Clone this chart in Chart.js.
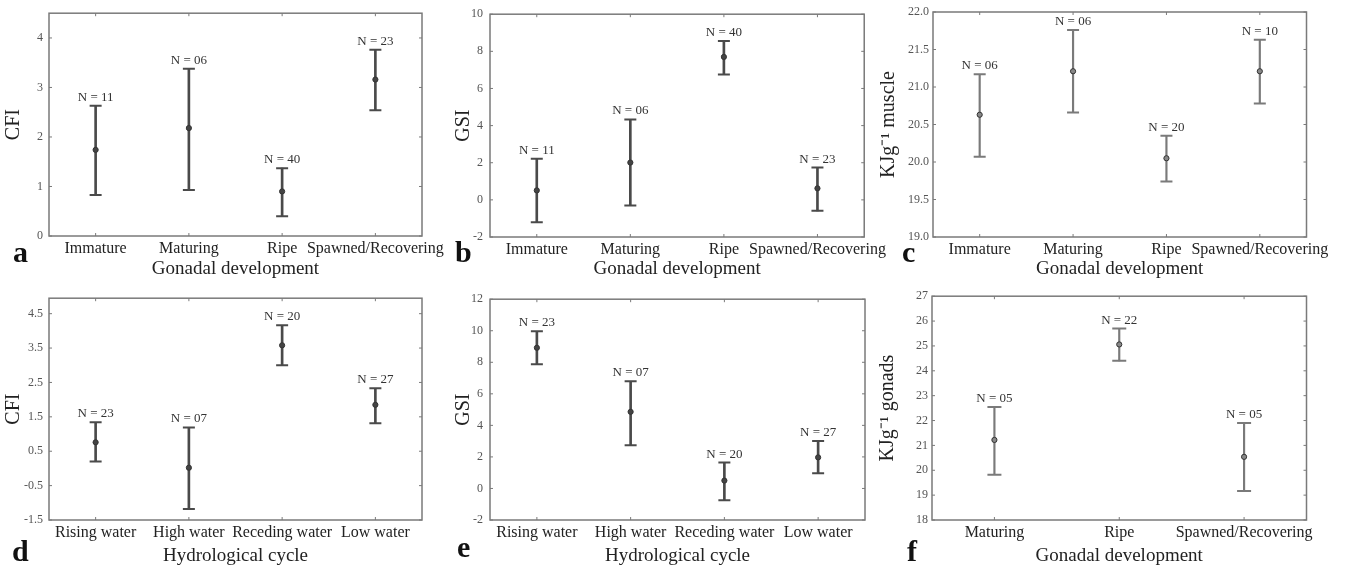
<!DOCTYPE html>
<html>
<head>
<meta charset="utf-8">
<script src="https://cdn.jsdelivr.net/npm/chart.js@4.4.1/dist/chart.umd.min.js"></script>
<style>
  body { margin: 0; background: #fff; width: 1348px; height: 571px; position: relative; overflow: hidden;
         font-family: 'Liberation Serif', 'Times New Roman', serif; }
  canvas { position: absolute; }
  .tag { position: absolute; font-weight: bold; font-size: 30px; line-height: 30px; color: #111; }
</style>
</head>
<body>
<canvas id="pa" width="452" height="285" style="left:0;top:0"></canvas>
<canvas id="pb" width="440" height="285" style="left:452px;top:0"></canvas>
<canvas id="pc" width="474" height="285" style="left:874px;top:0"></canvas>
<canvas id="pd" width="452" height="286" style="left:0;top:285px"></canvas>
<canvas id="pe" width="440" height="286" style="left:452px;top:285px"></canvas>
<canvas id="pf" width="474" height="286" style="left:874px;top:285px"></canvas>
<div class="tag" style="left:13px;top:237px">a</div>
<div class="tag" style="left:455px;top:237px">b</div>
<div class="tag" style="left:902px;top:237px">c</div>
<div class="tag" style="left:12px;top:536px">d</div>
<div class="tag" style="left:457px;top:532px">e</div>
<div class="tag" style="left:907px;top:536px">f</div>
<script>
// categories
const gonadStages = ['Immature', 'Maturing', 'Ripe', 'Spawned/Recovering'];
const hydroPhases = ['Rising water', 'High water', 'Receding water', 'Low water'];
const gonadStagesF = ['Maturing', 'Ripe', 'Spawned/Recovering'];

// a: CFI by gonadal development
const cfiStageMean  = [1.74, 2.18, 0.90, 3.16];
const cfiStageLow   = [0.83, 0.93, 0.40, 2.54];
const cfiStageHigh  = [2.63, 3.38, 1.37, 3.76];
const cfiStageN     = ['11', '06', '40', '23'];
// b: GSI by gonadal development
const gsiStageMean  = [0.51, 2.01, 7.70, 0.62];
const gsiStageLow   = [-1.21, -0.30, 6.75, -0.59];
const gsiStageHigh  = [2.22, 4.33, 8.55, 1.74];
const gsiStageN     = ['11', '06', '40', '23'];
// c: muscle energy by gonadal development
const muscleMean    = [20.63, 21.21, 20.05, 21.21];
const muscleLow     = [20.07, 20.66, 19.74, 20.78];
const muscleHigh    = [21.17, 21.76, 20.35, 21.63];
const muscleN       = ['06', '06', '20', '10'];
// d: CFI by hydrological cycle
const cfiHydroMean  = [0.76, 0.02, 3.58, 1.85];
const cfiHydroLow   = [0.20, -1.18, 3.00, 1.31];
const cfiHydroHigh  = [1.34, 1.19, 4.16, 2.33];
const cfiHydroN     = ['23', '07', '20', '27'];
// e: GSI by hydrological cycle
const gsiHydroMean  = [8.92, 4.86, 0.50, 1.97];
const gsiHydroLow   = [7.88, 2.74, -0.75, 0.97];
const gsiHydroHigh  = [9.96, 6.80, 1.64, 3.01];
const gsiHydroN     = ['23', '07', '20', '27'];
// f: gonad energy by gonadal development
const gonadMean     = [21.22, 25.06, 20.54];
const gonadLow      = [19.82, 24.40, 19.17];
const gonadHigh     = [22.54, 25.70, 21.90];
const gonadN        = ['05', '22', '05'];

// y tick labels
const ticksA = [0, 1, 2, 3, 4];
const ticksB = [-2, 0, 2, 4, 6, 8, 10];
const ticksC = [19.0, 19.5, 20.0, 20.5, 21.0, 21.5, 22.0];
const ticksD = [-1.5, -0.5, 0.5, 1.5, 2.5, 3.5, 4.5];
const ticksE = [-2, 0, 2, 4, 6, 8, 10, 12];
const ticksF = [18, 19, 20, 21, 22, 23, 24, 25, 26, 27];

const FONT = "'Liberation Serif', 'Times New Roman', serif";

const framePlugin = {
  id: 'frame',
  beforeDatasetsDraw(chart) {
    const { ctx, chartArea: a, scales: { x, y } } = chart;
    ctx.save();
    ctx.strokeStyle = '#7a7a7a';
    ctx.lineWidth = 1.5;
    ctx.strokeRect(a.left, a.top, a.right - a.left, a.bottom - a.top);
    ctx.lineWidth = 1;
    ctx.beginPath();
    y.ticks.forEach(t => {
      const py = y.getPixelForValue(t.value);
      ctx.moveTo(a.left, py); ctx.lineTo(a.left + 3, py);
      ctx.moveTo(a.right, py); ctx.lineTo(a.right - 3, py);
    });
    x.ticks.forEach((t, i) => {
      const px = x.getPixelForValue(i);
      ctx.moveTo(px, a.top); ctx.lineTo(px, a.top + 3);
      ctx.moveTo(px, a.bottom); ctx.lineTo(px, a.bottom - 3);
    });
    ctx.stroke();
    ctx.restore();
  }
};

function countLabels(upper, counts) {
  return {
    id: 'counts',
    afterDatasetsDraw(chart) {
      const { ctx, scales: { x, y } } = chart;
      ctx.save();
      ctx.font = '13px ' + FONT;
      ctx.fillStyle = '#333';
      ctx.textAlign = 'center';
      ctx.textBaseline = 'alphabetic';
      counts.forEach((n, i) => {
        ctx.fillText('N = ' + n, x.getPixelForValue(i), y.getPixelForValue(upper[i]) - 5);
      });
      ctx.restore();
    }
  };
}

function panel(id, o) {
  new Chart(document.getElementById(id), {
    type: 'bar',
    data: {
      labels: o.labels,
      datasets: [
        { type: 'line', data: o.mean, showLine: false, pointStyle: 'circle', pointRadius: 2.6,
          pointBackgroundColor: o.dot, pointBorderColor: '#333', pointBorderWidth: 1 },
        { type: 'line', data: o.upper, showLine: false, pointStyle: 'line', pointRadius: o.cap,
          pointBorderColor: o.ink, pointBorderWidth: 2 },
        { type: 'line', data: o.lower, showLine: false, pointStyle: 'line', pointRadius: o.cap,
          pointBorderColor: o.ink, pointBorderWidth: 2 },
        { data: o.lower.map((v, i) => [v, o.upper[i]]), backgroundColor: o.ink,
          barThickness: o.bar, borderWidth: 0 }
      ]
    },
    options: {
      responsive: false,
      animation: false,
      devicePixelRatio: 1,
      events: [],
      layout: { padding: { top: o.pt, right: o.pr, left: 0, bottom: 0 } },
      plugins: { legend: { display: false }, tooltip: { enabled: false } },
      scales: {
        x: {
          type: 'category',
          offset: true,
          grid: { display: false, drawTicks: false },
          border: { display: false },
          ticks: { font: { family: FONT, size: 16 }, color: '#222', padding: 3,
                   maxRotation: 0, autoSkip: false },
          title: { display: true, text: o.xTitle, color: '#222',
                   font: { family: FONT, size: 19 }, padding: { top: 0, bottom: o.xtp } },
          afterFit: s => { s.height = o.xh; }
        },
        y: {
          type: 'linear',
          min: o.min,
          max: o.max,
          afterBuildTicks: s => { s.ticks = o.ticks.map(v => ({ value: v })); },
          grid: { display: false, drawTicks: false },
          border: { display: false },
          ticks: { font: { family: FONT, size: 12 }, color: '#555', padding: o.tp,
                   callback: v => o.fmt(v) },
          title: { display: true, text: o.yTitle, color: '#222',
                   font: { family: FONT, size: 20 }, padding: { top: o.ytp, bottom: 0 } },
          afterFit: s => { s.width = o.yw; }
        }
      }
    },
    plugins: [framePlugin, countLabels(o.upper, o.n)]
  });
}

const plain = v => String(v);
const oneDec = v => v.toFixed(1);
const dark = '#4a4a4a', light = '#7a7a7a';

panel('pa', { labels: gonadStages, mean: cfiStageMean, lower: cfiStageLow, upper: cfiStageHigh, n: cfiStageN,
  ticks: ticksA, min: 0, max: 4.5, fmt: plain, yTitle: 'CFI', xTitle: 'Gonadal development',
  ink: dark, dot: '#444', cap: 6, bar: 2, yw: 49, xh: 49, pt: 10, pr: 30, tp: 6, ytp: 2, xtp: 5 });
panel('pb', { labels: gonadStages, mean: gsiStageMean, lower: gsiStageLow, upper: gsiStageHigh, n: gsiStageN,
  ticks: ticksB, min: -2, max: 10, fmt: plain, yTitle: 'GSI', xTitle: 'Gonadal development',
  ink: dark, dot: '#444', cap: 6, bar: 2, yw: 38, xh: 48, pt: 12, pr: 25, tp: 7, ytp: 0, xtp: 5 });
panel('pc', { labels: gonadStages, mean: muscleMean, lower: muscleLow, upper: muscleHigh, n: muscleN,
  ticks: ticksC, min: 19, max: 22, fmt: oneDec, yTitle: 'KJg\u207B\u00B9 muscle', xTitle: 'Gonadal development',
  ink: light, dot: '#888', cap: 6, bar: 1.5, yw: 59, xh: 48, pt: 12, pr: 41.5, tp: 4, ytp: 3, xtp: 5 });
panel('pd', { labels: hydroPhases, mean: cfiHydroMean, lower: cfiHydroLow, upper: cfiHydroHigh, n: cfiHydroN,
  ticks: ticksD, min: -1.5, max: 4.95, fmt: oneDec, yTitle: 'CFI', xTitle: 'Hydrological cycle',
  ink: dark, dot: '#444', cap: 6, bar: 2, yw: 49, xh: 51, pt: 11, pr: 30, tp: 6, ytp: 2, xtp: 4 });
panel('pe', { labels: hydroPhases, mean: gsiHydroMean, lower: gsiHydroLow, upper: gsiHydroHigh, n: gsiHydroN,
  ticks: ticksE, min: -2, max: 12, fmt: plain, yTitle: 'GSI', xTitle: 'Hydrological cycle',
  ink: dark, dot: '#444', cap: 6, bar: 2, yw: 38, xh: 51, pt: 10, pr: 27, tp: 7, ytp: 0, xtp: 4 });
panel('pf', { labels: gonadStagesF, mean: gonadMean, lower: gonadLow, upper: gonadHigh, n: gonadN,
  ticks: ticksF, min: 18, max: 27, fmt: plain, yTitle: 'KJg\u207B\u00B9 gonads', xTitle: 'Gonadal development',
  ink: light, dot: '#888', cap: 7, bar: 1.5, yw: 58, xh: 51, pt: 11, pr: 41.5, tp: 4, ytp: 2, xtp: 4 });
</script>
</body>
</html>
